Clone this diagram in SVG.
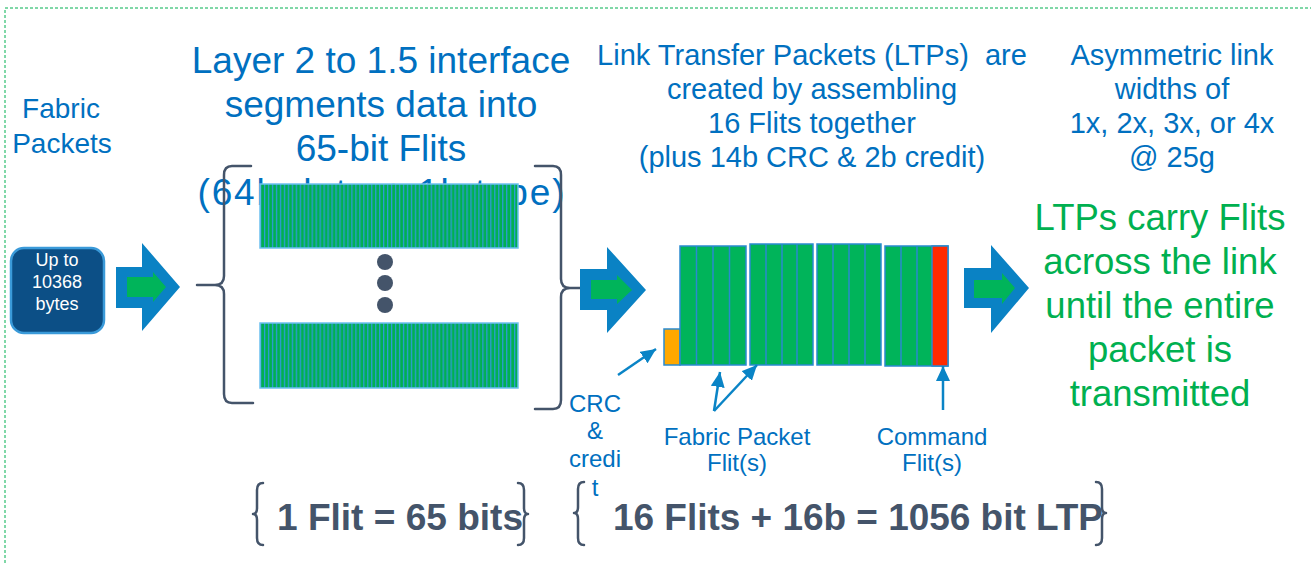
<svg xmlns="http://www.w3.org/2000/svg" width="1311" height="563" viewBox="0 0 1311 563">
<style>
.blue{fill:#0070C0;font-family:"Liberation Sans",Arial,sans-serif;text-anchor:middle}
.green{fill:#00B050;font-family:"Liberation Sans",Arial,sans-serif;text-anchor:middle}
.slate{fill:#44546A;font-family:"Liberation Sans",Arial,sans-serif;font-weight:bold;font-size:36px}
.brace{fill:none;stroke:#44546A;stroke-width:2.5;stroke-linecap:round;stroke-linejoin:round}
.bigarrow{fill:#0A82C4}
.innerarrow{fill:#00B45A}
.blk{fill:#00B45A;stroke:#2A8AD0;stroke-width:1.5}
.div{stroke:#2A8AD0;stroke-width:1.5}
.ptr{stroke:#0A84C6;stroke-width:2.5;fill:none;marker-end:url(#ah)}
.bar{fill:url(#stripes);stroke:#6CC0F0;stroke-width:1.5}
</style>
<defs>
<pattern id="stripes" patternUnits="userSpaceOnUse" x="260" y="0" width="3.969" height="100">
<rect x="0" y="0" width="3.969" height="100" fill="#00B050"/>
<rect x="0" y="0" width="1.3" height="100" fill="#2E9BD6"/>
</pattern>
<marker id="ah" markerUnits="userSpaceOnUse" markerWidth="16" markerHeight="14" refX="15" refY="7" orient="auto">
<path d="M0,0 L15,7 L0,14 Z" fill="#0A84C6"/>
</marker>
</defs>
<rect x="5" y="8" width="1330" height="600" fill="none" stroke="#00B050" stroke-width="1" stroke-dasharray="3,2"/>

<g id="fabric-packets-label">
<text class="blue" font-size="28" x="61" y="118">Fabric</text>
<text class="blue" font-size="28" x="62" y="153">Packets</text>
</g>

<g id="title-segments">
<text class="blue" font-size="37" x="381" y="73">Layer 2 to 1.5 interface</text>
<text class="blue" font-size="37" x="381" y="117">segments data into</text>
<text class="blue" font-size="37" x="381" y="161">65-bit Flits</text>
<text class="blue" font-size="37" x="381" y="205" textLength="367" lengthAdjust="spacing">(64b data + 1b type)</text>
</g>

<g id="ltp-title">
<text class="blue" font-size="29" x="812" y="65" xml:space="preserve">Link Transfer Packets (LTPs)  are</text>
<text class="blue" font-size="29" x="812" y="99">created by assembling</text>
<text class="blue" font-size="29" x="812" y="133">16 Flits together</text>
<text class="blue" font-size="29" x="812" y="167">(plus 14b CRC &amp; 2b credit)</text>
</g>

<g id="asym-title">
<text class="blue" font-size="29" x="1172" y="65">Asymmetric link</text>
<text class="blue" font-size="29" x="1172" y="99">widths of</text>
<text class="blue" font-size="29" x="1172" y="133">1x, 2x, 3x, or 4x</text>
<text class="blue" font-size="29" x="1172" y="167">@ 25g</text>
</g>

<g id="packet-box">
<rect x="11" y="248" width="93" height="85" rx="13" fill="#0C4F86" stroke="#3A9AD9" stroke-width="2.5"/>
<text x="57" y="266" font-size="18" fill="#FFFFFF" font-family="'Liberation Sans',Arial,sans-serif" text-anchor="middle">Up to</text>
<text x="57" y="288" font-size="18" fill="#FFFFFF" font-family="'Liberation Sans',Arial,sans-serif" text-anchor="middle">10368</text>
<text x="57" y="310" font-size="18" fill="#FFFFFF" font-family="'Liberation Sans',Arial,sans-serif" text-anchor="middle">bytes</text>
</g>

<g id="arrow1">
<path class="bigarrow" d="M116,267 L142,267 L142,243 L180,287 L142,331 L142,308 L116,308 Z"/>
<path class="innerarrow" d="M127,277 L153,277 L153,272 L166,287 L153,302 L153,297 L127,297 Z"/>
</g>

<g id="flits">
<rect class="bar" x="260" y="184" width="258" height="64"/>
<rect class="bar" x="260" y="323" width="258" height="65"/>
<circle cx="385" cy="262" r="8" fill="#44546A"/>
<circle cx="385" cy="283" r="8" fill="#44546A"/>
<circle cx="385" cy="305" r="8" fill="#44546A"/>
<path class="brace" d="M251,166 L232,166 Q224,166 224,175 L224,276 Q224,285 215,285 L197,285 L215,285 Q224,285 224,294 L224,394 Q224,403 232,403 L253,403"/>
<path class="brace" d="M535,166 L553,166 Q561,166 561,175 L561,279 Q561,288 570,288 L584,288 L570,288 Q561,288 561,297 L561,400 Q561,409 553,409 L535,409"/>
</g>

<g id="arrow2">
<path class="bigarrow" d="M580,269 L607,269 L607,247 L646,290 L607,333 L607,310 L580,310 Z"/>
<path class="innerarrow" d="M591,280 L617,280 L617,275 L632,290 L617,304 L617,299 L591,299 Z"/>
</g>

<g id="ltp">
<rect x="664" y="329" width="16" height="36" fill="#FFA800" stroke="#2A8AD0" stroke-width="1.5"/>
<rect class="blk" x="680" y="246" width="66" height="119"/>
<line class="div" x1="696.5" y1="246" x2="696.5" y2="365"/>
<line class="div" x1="713" y1="246" x2="713" y2="365"/>
<line class="div" x1="729.5" y1="246" x2="729.5" y2="365"/>
<rect class="blk" x="750" y="244" width="63" height="121"/>
<line class="div" x1="766" y1="244" x2="766" y2="365"/>
<line class="div" x1="782" y1="244" x2="782" y2="365"/>
<line class="div" x1="797" y1="244" x2="797" y2="365"/>
<rect class="blk" x="817" y="244" width="64" height="121"/>
<line class="div" x1="833" y1="244" x2="833" y2="365"/>
<line class="div" x1="849" y1="244" x2="849" y2="365"/>
<line class="div" x1="865" y1="244" x2="865" y2="365"/>
<rect class="blk" x="885" y="246" width="63" height="120"/>
<line class="div" x1="901" y1="246" x2="901" y2="366"/>
<line class="div" x1="917" y1="246" x2="917" y2="366"/>
<rect x="932" y="246" width="16" height="120" fill="#FF2A00" stroke="#2A8AD0" stroke-width="1.5"/>
</g>

<g id="arrow3">
<path class="bigarrow" d="M964,268 L991,268 L991,245 L1029,288 L991,333 L991,308 L964,308 Z"/>
<path class="innerarrow" d="M974,280 L1002,280 L1002,273 L1015,288 L1002,304 L1002,298 L974,298 Z"/>
</g>

<g id="ltp-carry">
<text class="green" font-size="36.5" x="1160" y="230">LTPs carry Flits</text>
<text class="green" font-size="36.5" x="1160" y="274">across the link</text>
<text class="green" font-size="36.5" x="1160" y="318">until the entire</text>
<text class="green" font-size="36.5" x="1160" y="362">packet is</text>
<text class="green" font-size="36.5" x="1160" y="406">transmitted</text>
</g>

<g id="connectors">
<line class="ptr" x1="618" y1="375" x2="656" y2="349"/>
<line class="ptr" x1="714" y1="411" x2="720" y2="372"/>
<line class="ptr" x1="714" y1="411" x2="757" y2="365"/>
<line class="ptr" x1="943" y1="410" x2="943" y2="366"/>
</g>

<g id="crc-label">
<text class="blue" font-size="24" x="595" y="412">CRC</text>
<text class="blue" font-size="24" x="595" y="439">&amp;</text>
<text class="blue" font-size="24" x="595" y="467">credi</text>
<text class="blue" font-size="24" x="595" y="496">t</text>
</g>

<g id="fabric-flit-label">
<text class="blue" font-size="24" x="737" y="445">Fabric Packet</text>
<text class="blue" font-size="24" x="737" y="471">Flit(s)</text>
</g>

<g id="command-flit-label">
<text class="blue" font-size="24" x="932" y="445">Command</text>
<text class="blue" font-size="24" x="932" y="471">Flit(s)</text>
</g>

<g id="flit-size">
<path class="brace" d="M263,483 Q257,483 257,490 L257,508 Q257,514 253,514 Q257,514 257,520 L257,538 Q257,545 263,545"/>
<text class="slate" x="277" y="530" textLength="246" lengthAdjust="spacingAndGlyphs">1 Flit = 65 bits</text>
<path class="brace" d="M518,483 Q524,483 524,490 L524,508 Q524,514 528,514 Q524,514 524,520 L524,538 Q524,545 518,545"/>
</g>

<g id="ltp-size">
<path class="brace" d="M584,482 Q578,482 578,489 L578,507 Q578,513 574,513 Q578,513 578,519 L578,538 Q578,545 584,545"/>
<text class="slate" x="613" y="530" textLength="490" lengthAdjust="spacingAndGlyphs">16 Flits + 16b = 1056 bit LTP</text>
<path class="brace" d="M1096,482 Q1102,482 1102,489 L1102,507 Q1102,513 1106,513 Q1102,513 1102,519 L1102,538 Q1102,545 1096,545"/>
</g>
</svg>
